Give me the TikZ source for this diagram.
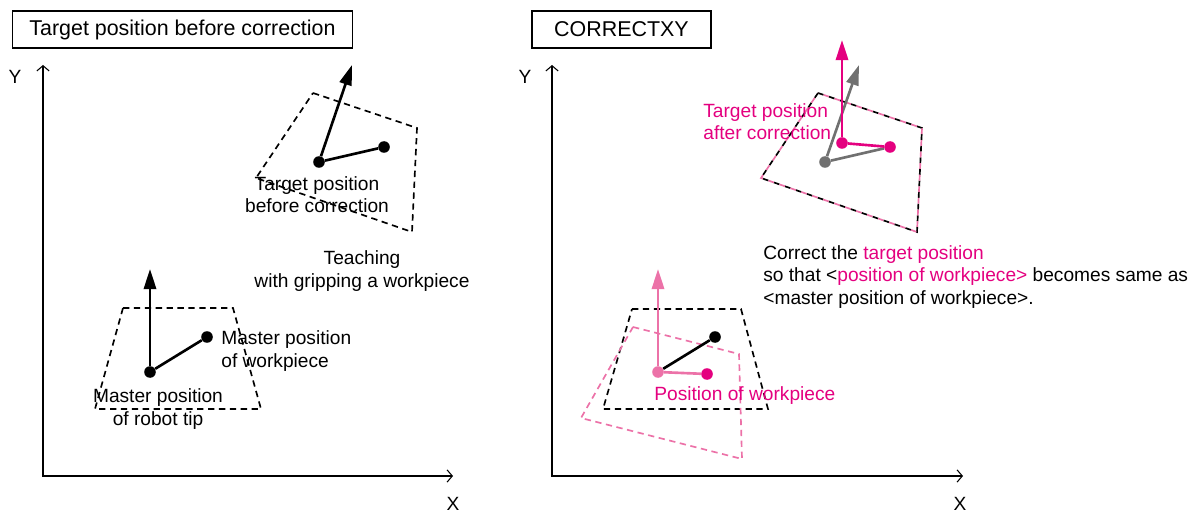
\documentclass[tikz,border=0pt]{standalone}
\usepackage{fontspec}
\setmainfont{Liberation Sans}
\usetikzlibrary{arrows.meta}
\definecolor{mag}{HTML}{E4007F}
\definecolor{lpink}{HTML}{EC72A8}
\definecolor{dgray}{HTML}{707070}
\begin{document}
\begin{tikzpicture}[x=0.02cm,y=-0.02cm,
  axis/.style={line width=0.6pt,{Straight Barb[length=3pt,width=7pt]}-{Straight Barb[length=3pt,width=7pt]}},
  dsh/.style={line width=0.95pt,dash pattern=on 3.6pt off 2.6pt},
  thk/.style={line width=1.5pt},
  arr/.style={thk,-{Triangle[length=11.5pt,width=7pt]}},
  dot/.style={circle,fill,inner sep=0pt,minimum size=6.6pt},
  lbl/.style={font=\fontsize{10.9}{12.6}\selectfont,inner sep=0pt},
  ttl/.style={draw,line width=0.6pt,font=\fontsize{12.2}{14}\selectfont,inner sep=0pt,minimum height=0.74cm}
]
\useasboundingbox (0,0) rectangle (1196,513);

% ---------- left panel ----------
\node[ttl,minimum width=6.82cm] (title1) at (182.5,29.5) {Target position before correction};
\coordinate (ly) at (43,65);
\coordinate (lx) at (453,476);
\draw[axis] (ly) |- (lx);
\node[lbl] (lY) at (15,77) {Y};
\node[lbl] (lX) at (453,504) {X};

% target quad (before correction)
\draw[dsh] (313,93) -- (417,128) -- (412,232) -- (256,178) -- cycle;
\node[dot] (t1) at (319,162) {};
\node[dot] (t2) at (384,147) {};
\coordinate (t1a) at (352,65);
\draw[arr] (t1) -- (t1a);
\draw[thk] (t1) -- (t2);
\node[lbl,align=center] (tlab) at (317,195) {Target position\\before correction};
\node[lbl,align=center] (teach) at (362,271) {Teaching\\with gripping a workpiece};

% master quad
\draw[dsh] (123,308) -- (233,308) -- (261,409) -- (95,409) -- cycle;
\node[dot] (r1) at (150,372) {};
\node[dot] (r2) at (207,337) {};
\coordinate (r1a) at (150,269);
\draw[arr] (r1) -- (r1a);
\draw[thk] (r1) -- (r2);
\node[lbl,align=left,anchor=west] (mwp) at (221,351) {Master position\\of workpiece};
\node[lbl,align=center] (mrt) at (158,409) {Master position\\of robot tip};

% ---------- right panel ----------
\node[ttl,minimum width=3.58cm] (title2) at (621.5,29.5) {CORRECTXY};
\coordinate (ry) at (552,65);
\coordinate (rx) at (963,476);
\draw[axis] (ry) |- (rx);
\node[lbl] (rY) at (525,77) {Y};
\node[lbl] (rX) at (960,504) {X};

% target quad (black / pink alternating)
\draw[line width=0.95pt,dash pattern=on 3.3pt off 3.3pt] (818,93) -- (922,128) -- (917,232) -- (761,178) -- cycle;
\draw[line width=0.95pt,lpink,dash pattern=on 3.3pt off 3.3pt,dash phase=3.3pt] (818,93) -- (922,128) -- (917,232) -- (761,178) -- cycle;
\node[dot,fill=dgray] (g1) at (825,162) {};
\coordinate (g1a) at (859,65);
\draw[arr,dgray] (g1) -- (g1a);
\node[dot,fill=mag] (m1) at (842,143) {};
\node[dot,fill=mag] (m2) at (890,147) {};
\draw[thk,dgray] (g1) -- (m2);
\coordinate (m1a) at (842,40);
\draw[arr,mag] (m1) -- (m1a);
\draw[thk,mag] (m1) -- (m2);
\node[lbl,align=left,anchor=west,text=mag] (tac) at (703,122) {Target position\\after correction};

\node[lbl,align=left,anchor=west] (corr) at (763,277) {Correct the \textcolor{mag}{target position}\\so that <\textcolor{mag}{position of workpiece>} becomes same as\\<master position of workpiece>.};

% lower right
\draw[dsh] (632,309) -- (741,309) -- (768,409) -- (603,409) -- cycle;
\draw[dsh,lpink] (633,327) -- (739,354) -- (742,459) -- (581,418) -- cycle;
\node[dot,fill=lpink] (p1) at (658,372) {};
\node[dot] (b2) at (715,337) {};
\node[dot,fill=mag] (m3) at (707,374) {};
\draw[thk] (p1) -- (b2);
\coordinate (p1a) at (658,269);
\draw[arr,lpink] (p1) -- (p1a);
\draw[thk,lpink] (p1) -- (m3);
\node[lbl,anchor=west,text=mag] (pow) at (654,396) {Position of workpiece};
\end{tikzpicture}
\end{document}
